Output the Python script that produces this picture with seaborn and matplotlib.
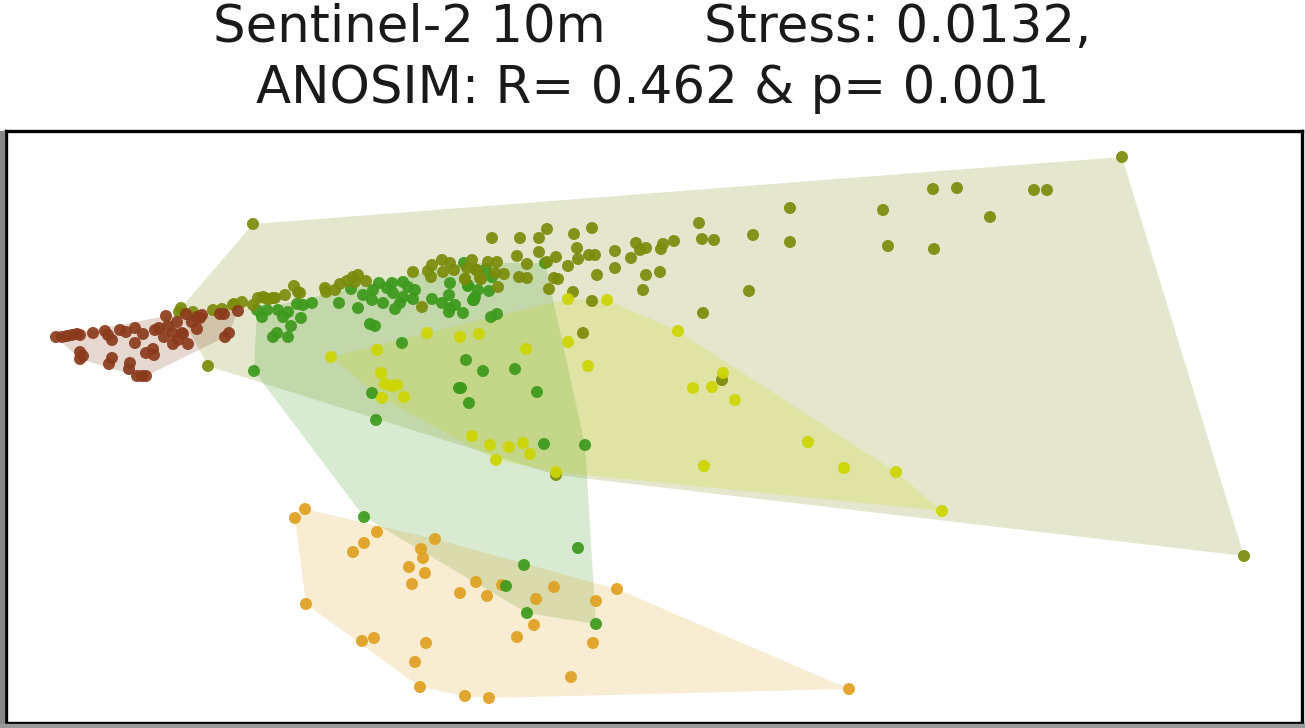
import numpy as np
import pandas as pd
import matplotlib
matplotlib.use("Agg")
import matplotlib.pyplot as plt
import seaborn as sns

# ---- data (NMDS scores; axis 2 orientation flipped) ----
brown_x = [56, 62, 67, 72, 77, 80, 93, 105, 108, 112, 120, 126, 135, 143, 135, 155, 159, 166, 168, 177,
           164, 173, 173, 183, 188, 178, 153, 146, 154, 80, 83, 80, 112, 109, 130, 129, 137, 142, 146, 186,
           197, 202, 197, 220, 224, 238, 225, 229, 182, 192, 200]
brown_y = [337, 337, 336, 335, 334, 335, 333, 331, 335, 340, 330, 332, 328, 334, 343, 330, 328, 316, 326, 322,
           337, 333, 344, 334, 344, 340, 349, 353, 355, 352, 356, 359, 358, 364, 363, 369, 376, 376, 376, 314,
           317, 315, 329, 314, 314, 311, 337, 333, 333, 322, 318]

olive_x = [253, 181, 179, 193, 208, 213, 222, 233, 242, 253, 258, 265, 273, 234, 263, 269, 275, 285, 294, 298,
           300, 325, 326, 335, 340, 347, 353, 358, 355, 366, 413, 422, 428, 432, 431, 442, 443, 450, 454, 472,
           465, 476, 480, 492, 520, 539, 547, 574, 592, 517, 539, 527, 556, 577, 578, 568, 589, 595, 615, 615,
           597, 631, 636, 640, 646, 661, 663, 674, 646, 660, 643, 699, 702, 714, 703, 547, 549, 554, 558, 573,
           592, 583, 519, 527, 504, 498, 488, 497, 495, 481, 477, 467, 465, 753, 790, 790, 749, 883, 888, 933,
           957, 990, 934, 1034, 1047, 1122, 1244, 556, 722]
olive_y = [224, 308, 312, 312, 366, 310, 309, 305, 302, 305, 298, 298, 298, 304, 297, 299, 298, 295, 286, 292,
           293, 288, 292, 290, 284, 281, 277, 275, 282, 281, 272, 307, 271, 265, 277, 260, 272, 263, 270, 260,
           279, 270, 278, 238, 238, 238, 229, 234, 228, 256, 252, 264, 257, 248, 259, 266, 255, 255, 251, 268,
           275, 258, 243, 250, 248, 249, 244, 241, 275, 272, 290, 223, 239, 240, 313, 262, 289, 278, 279, 292,
           301, 333, 277, 278, 274, 287, 262, 262, 273, 279, 270, 268, 279, 235, 208, 242, 291, 210, 246, 189,
           188, 217, 249, 190, 190, 157, 556, 475, 380]

green_x = [257, 262, 267, 278, 283, 288, 297, 303, 312, 301, 291, 277, 273, 288, 339, 358, 351, 363, 372, 373,
           379, 387, 392, 393, 383, 395, 400, 403, 408, 415, 403, 413, 432, 442, 449, 450, 450, 455, 463, 464,
           468, 474, 478, 370, 375, 402, 466, 459, 469, 254, 372, 376, 486, 492, 468, 489, 475, 473, 491, 497,
           545, 483, 515, 537, 461, 544, 585, 364, 578, 524, 506, 527, 596, 449]
green_y = [310, 317, 310, 310, 317, 312, 304, 305, 303, 318, 326, 333, 337, 337, 303, 308, 289, 295, 300, 290,
           283, 288, 283, 293, 303, 309, 303, 282, 287, 290, 297, 299, 299, 303, 295, 283, 308, 305, 313, 263,
           285, 300, 290, 324, 326, 343, 360, 388, 403, 371, 393, 420, 269, 277, 286, 291, 297, 300, 317, 314,
           263, 371, 369, 392, 388, 444, 445, 517, 548, 565, 586, 613, 624, 312]

yellow_x = [331, 377, 427, 460, 479, 381, 385, 392, 397, 382, 404, 568, 607, 526, 568, 588, 678, 693, 712, 723,
            735, 808, 704, 844, 896, 942, 472, 490, 509, 523, 530, 496, 556]
yellow_y = [357, 350, 333, 337, 334, 373, 384, 386, 385, 398, 397, 299, 300, 349, 342, 366, 331, 388, 387, 373,
            400, 442, 466, 468, 472, 511, 436, 445, 447, 443, 454, 460, 472]

orange_x = [305, 295, 377, 364, 353, 435, 421, 423, 409, 425, 412, 460, 476, 487, 502, 536, 554, 596, 617, 534,
            517, 593, 306, 362, 374, 426, 415, 420, 465, 489, 571, 849]
orange_y = [509, 518, 532, 543, 552, 539, 549, 558, 567, 573, 584, 593, 582, 596, 585, 599, 587, 601, 589, 625,
            637, 643, 604, 641, 638, 643, 662, 687, 696, 698, 677, 689]

groups = ["orange", "green", "olive", "brown", "yellow"]
colors = {"brown": "#8B3B1C", "olive": "#7B8B0A", "green": "#3C9A1C",
          "yellow": "#CDD500", "orange": "#E0A020"}
xs = {"brown": brown_x, "olive": olive_x, "green": green_x, "yellow": yellow_x, "orange": orange_x}
ys = {"brown": brown_y, "olive": olive_y, "green": green_y, "yellow": yellow_y, "orange": orange_y}

frames = [pd.DataFrame({"NMDS1": xs[g], "NMDS2": ys[g], "group": g}) for g in groups]
df = pd.concat(frames, ignore_index=True)


def convex_hull(pts):
    pts = sorted(set(map(tuple, pts)))
    if len(pts) < 3:
        return pts

    def cross(o, a, b):
        return (a[0] - o[0]) * (b[1] - o[1]) - (a[1] - o[1]) * (b[0] - o[0])
    lower, upper = [], []
    for p in pts:
        while len(lower) >= 2 and cross(lower[-2], lower[-1], p) <= 0:
            lower.pop()
        lower.append(p)
    for p in reversed(pts):
        while len(upper) >= 2 and cross(upper[-2], upper[-1], p) <= 0:
            upper.pop()
        upper.append(p)
    return lower[:-1] + upper[:-1]


sns.set_style("white")
plt.rcParams["font.family"] = ["DejaVu Sans"]

fig = plt.figure(figsize=(13.05, 7.28), dpi=100)
ax = fig.add_axes([6 / 1305, (728 - 723) / 728, (1302 - 6) / 1305, (723 - 131) / 728])

for g in ["olive", "brown", "green", "yellow", "orange"]:
    hull = np.array(convex_hull(list(zip(xs[g], ys[g]))))
    ax.fill(hull[:, 0], hull[:, 1], color=colors[g], alpha=0.2, lw=0, zorder=1)

sns.scatterplot(data=df, x="NMDS1", y="NMDS2", hue="group", palette=colors,
                s=75, alpha=0.92, linewidth=0, legend=False, ax=ax, zorder=3)

ax.set_xlim(6, 1302)
ax.set_ylim(723, 131)
ax.set_xticks([])
ax.set_yticks([])
ax.set_xlabel("")
ax.set_ylabel("")
for sp in ax.spines.values():
    sp.set_visible(True)
    sp.set_color("black")
    sp.set_linewidth(2.4)

# grey edge strips seen at the left and bottom of the original export
fig.patches.append(plt.Rectangle((0, 0), 4 / 1305, 1 - 131 / 728, transform=fig.transFigure,
                                 color="#888888", zorder=0))
fig.patches.append(plt.Rectangle((0, 0), 1, 4 / 728, transform=fig.transFigure,
                                 color="#999999", zorder=0))

fig.text(0.5, 1 - 28 / 728, "Sentinel-2 10m      Stress: 0.0132,", ha="center", va="center",
         fontsize=37, color="#1a1a1a")
fig.text(0.5, 1 - 89 / 728, "ANOSIM: R= 0.462 & p= 0.001", ha="center", va="center",
         fontsize=37, color="#1a1a1a")

fig.savefig("out.png", dpi=100)
